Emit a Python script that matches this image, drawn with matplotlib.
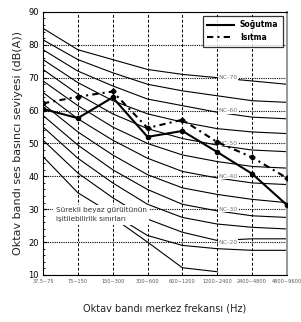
import numpy as np
import matplotlib
matplotlib.use('Agg')
import matplotlib.pyplot as plt
from matplotlib.ticker import MultipleLocator

bands = ['37.5~75', '75~150', '150~300', '300~600', '600~1200',
         '1200~2400', '2400~4800', '4800~9600']

sogutma = [60.5, 57.7, 64.0, 52.0, 53.8, 47.4, 40.8, 31.3]
isitma = [62.2, 64.2, 65.8, 54.7, 57.2, 50.4, 45.8, 39.5]

# NC curves, one row per curve (NC-70 down to NC-15)
nc_values = [
    [85.0, 78.5, 75.5, 72.5, 71.0, 70.0, 69.0, 68.0],
    [81.5, 75.5, 71.5, 68.0, 66.0, 64.5, 63.0, 62.5],
    [78.5, 72.0, 67.5, 63.5, 61.5, 59.5, 58.0, 57.5],
    [75.5, 68.5, 63.0, 59.0, 56.5, 54.5, 53.5, 53.0],
    [72.5, 65.0, 59.0, 54.5, 51.5, 49.5, 48.0, 47.5],
    [69.0, 61.5, 55.0, 50.0, 46.5, 44.5, 43.0, 42.5],
    [65.5, 57.5, 51.0, 45.5, 41.5, 39.5, 38.0, 37.5],
    [62.0, 53.5, 46.5, 40.5, 36.5, 34.5, 33.0, 32.0],
    [58.5, 49.5, 42.0, 36.0, 31.5, 29.5, 28.0, 27.5],
    [55.0, 45.5, 38.0, 31.5, 27.5, 25.5, 24.5, 24.0],
    [51.0, 41.0, 33.5, 27.0, 23.0, 20.5, 21.0, 21.0],
    [46.0, 35.0, 28.5, 22.0, 19.0, 18.0, 17.5, 17.5],
]
nc_label_names = ['NC-70', 'NC-60', 'NC-50', 'NC-40', 'NC-30', 'NC-20']
nc_label_levels = [70, 60, 50, 40, 30, 20]

# audibility threshold of continuous white noise (ends at 1200~2400)
threshold = [27.5, 20.0, 12.2, 11.0]

x = np.arange(len(bands))

fig = plt.figure(figsize=(3.01, 3.22), dpi=100)
ax = fig.add_axes([0.143, 0.146, 0.81, 0.817])

for vals in nc_values:
    ax.plot(x, vals, color='black', lw=0.8, zorder=2)
ax.plot(x[2:6], threshold, color='black', lw=0.8, zorder=2)

for name, lev in zip(nc_label_names, nc_label_levels):
    ax.text(5.3, lev, name, fontsize=4.5, color='#777777', ha='center', va='center',
            bbox=dict(facecolor='white', edgecolor='none', pad=0.3), zorder=3)

ax.text(0.36, 28.3, 'Sürekli beyaz gürültünün\nişitilebilirlik sınırları',
        fontsize=5.2, color='#333333', ha='left', va='center', linespacing=1.6,
        bbox=dict(facecolor='white', edgecolor='none', pad=1.8), zorder=4)

ax.plot(x, sogutma, color='black', lw=1.5, marker='o', ms=3, zorder=5,
        label='Soğutma')
ax.plot(x, isitma, color='black', lw=1.5, ls=(0, (3, 2, 1, 2)), marker='D', ms=2.6,
        zorder=5, label='Isıtma')

ax.set_xlim(0, 7)
ax.set_ylim(10, 90)
ax.set_xticks(x)
ax.set_xticklabels(bands, fontsize=3.6, color='#555555')
ax.yaxis.set_major_locator(MultipleLocator(10))
ax.yaxis.set_minor_locator(MultipleLocator(2))
ax.tick_params(axis='y', which='major', direction='in', length=3, labelsize=6, pad=3)
ax.tick_params(axis='y', which='minor', direction='in', length=1.5)
ax.tick_params(axis='x', length=0, pad=3)

ax.grid(axis='x', color='black', ls=(0, (3, 2)), lw=0.7)
ax.grid(axis='y', color='black', ls=(0, (1, 1)), lw=0.8)
ax.set_axisbelow(True)
ax.spines['right'].set_color('#999999')
ax.spines['right'].set_linewidth(1.5)

ax.set_ylabel('Oktav bandı ses basıncı seviyesi (dB(A))', fontsize=8, color='#222222',
              labelpad=4)
ax.set_xlabel('Oktav bandı merkez frekansı (Hz)', fontsize=7, color='#222222',
              labelpad=14)

leg = ax.legend(loc='upper right', frameon=True, fancybox=False,
                edgecolor='black', handlelength=3.5, borderpad=0.6,
                prop={'weight': 'bold', 'size': 5.5})
leg.get_frame().set_linewidth(0.9)
for h in leg.legend_handles:
    h.set_marker('')

plt.savefig('out.png', dpi=100)
